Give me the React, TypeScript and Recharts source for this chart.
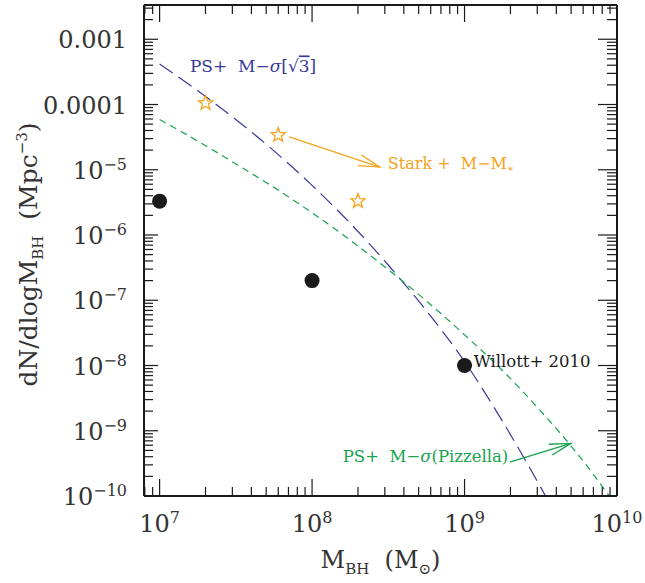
import React from 'react';
import {
  ComposedChart,
  Line,
  Scatter,
  XAxis,
  YAxis,
  ReferenceDot,
  ReferenceLine,
} from 'recharts';

// PS + M-sigma [sqrt 3] model curve (long dashes)
const sqrt3Mass = [1e7, 1.78e7, 3.16e7, 5.62e7, 1e8, 1.78e8, 3.16e8, 5.62e8, 1e9, 1.78e9, 3.4e9];
const sqrt3Density = [4.17e-4, 1.62e-4, 5.89e-5, 1.95e-5, 5.75e-6, 1.51e-6, 3.47e-7, 6.92e-8, 1.15e-8, 1.38e-9, 1.0e-10];

// PS + M-sigma (Pizzella) model curve (short dashes)
const pizzellaMass = [1e7, 1.78e7, 3.16e7, 5.62e7, 1e8, 1.78e8, 3.16e8, 5.62e8, 1e9, 1.78e9, 3.16e9, 5.62e9, 8.9e9];
const pizzellaDensity = [5.89e-5, 2.75e-5, 1.23e-5, 5.37e-6, 2.19e-6, 8.32e-7, 2.95e-7, 9.77e-8, 2.95e-8, 8.32e-9, 2.0e-9, 4.17e-10, 1.0e-10];

// Willott+ 2010 points
const willottMass = [1e7, 1e8, 1e9];
const willottDensity = [3.3e-6, 2.0e-7, 1.0e-8];

// Stark + M-M* points
const starkMass = [2e7, 6e7, 2e8];
const starkDensity = [1.05e-4, 3.4e-5, 3.3e-6];

const xMajor = [1e7, 1e8, 1e9, 1e10];
const yMajor = [1e-10, 1e-9, 1e-8, 1e-7, 1e-6, 1e-5, 1e-4, 1e-3];
const minorSteps = [2, 3, 4, 5, 6, 7, 8, 9];
const xDomain = [7.9e6, 1e10];
const yDomain = [1e-10, 3.35e-3];

const xTicks = [8e6, 9e6, ...xMajor.slice(0, 3).flatMap((d) => minorSteps.map((k) => k * d)), ...xMajor];
const yTicks = [
  ...yMajor.flatMap((d) => minorSteps.map((k) => k * d)).filter((v) => v <= yDomain[1]),
  ...yMajor,
];

const sqrt3Data = sqrt3Mass.map((x, i) => ({ x, y: sqrt3Density[i] }));
const pizzellaData = pizzellaMass.map((x, i) => ({ x, y: pizzellaDensity[i] }));
const willottData = willottMass.map((x, i) => ({ x, y: willottDensity[i] }));
const starkData = starkMass.map((x, i) => ({ x, y: starkDensity[i] }));

const FONT = '"DejaVu Serif", serif';
const BLUE = '#3a3a98';
const GREEN = '#17a34f';
const ORANGE = '#f5a31a';
const INK = '#1a1a1a';
const LABEL = '#333';

const exp10 = (v: number) => Math.round(Math.log10(v));

const XTickBottom = ({ x, y, payload }: any) => {
  const major = xMajor.includes(payload.value);
  return (
    <g>
      <line x1={x} y1={y} x2={x} y2={y - (major ? 17 : 9)} stroke={INK} strokeWidth={1.2} />
      {major && (
        <text x={x} y={y + 36} textAnchor="middle" fontFamily={FONT} fontSize={24} fill={LABEL}>
          10<tspan dy={-9} fontSize={16}>{exp10(payload.value)}</tspan>
        </text>
      )}
    </g>
  );
};

const XTickTop = ({ x, y, payload }: any) => {
  const major = xMajor.includes(payload.value);
  return <line x1={x} y1={y} x2={x} y2={y + (major ? 17 : 9)} stroke={INK} strokeWidth={1.2} />;
};

const YTickLeft = ({ x, y, payload }: any) => {
  const v = payload.value;
  const major = yMajor.includes(v);
  const e = exp10(v);
  return (
    <g>
      <line x1={x} y1={y} x2={x + (major ? 14 : 9)} y2={y} stroke={INK} strokeWidth={1.2} />
      {major && (
        <text x={x - 17} y={y + 9} textAnchor="end" fontFamily={FONT} fontSize={24} fill={LABEL}>
          {e === -3 ? '0.001' : e === -4 ? '0.0001' : (
            <>
              10<tspan dy={-9} fontSize={16}>{'\u2212' + -e}</tspan>
            </>
          )}
        </text>
      )}
    </g>
  );
};

const YTickRight = ({ x, y, payload }: any) => {
  const major = yMajor.includes(payload.value);
  return <line x1={x} y1={y} x2={x - (major ? 19 : 10)} y2={y} stroke={INK} strokeWidth={1.2} />;
};

const BlackDot = ({ cx, cy }: any) => <circle cx={cx} cy={cy} r={7.5} fill={INK} />;

const OpenStar = ({ cx, cy }: any) => {
  const pts: string[] = [];
  for (let i = 0; i < 10; i++) {
    const r = i % 2 === 0 ? 7.5 : 3.2;
    const a = -Math.PI / 2 + (i * Math.PI) / 5;
    pts.push(`${cx + r * Math.cos(a)},${cy + r * Math.sin(a)}`);
  }
  return <polygon points={pts.join(' ')} fill="#fff" stroke={ORANGE} strokeWidth={1.3} />;
};

const arrowShape = (color: string) => (p: any) => {
  const { x1, y1, x2, y2 } = p;
  const ang = Math.atan2(y2 - y1, x2 - x1);
  const L = 22;
  const spread = 0.26;
  const a = { x: x2 - L * Math.cos(ang - spread), y: y2 - L * Math.sin(ang - spread) };
  const b = { x: x2 - L * Math.cos(ang + spread), y: y2 - L * Math.sin(ang + spread) };
  return (
    <g>
      <line x1={x1} y1={y1} x2={x2} y2={y2} stroke={color} strokeWidth={1.3} />
      <polyline
        points={`${a.x},${a.y} ${x2},${y2} ${b.x},${b.y}`}
        fill="none"
        stroke={color}
        strokeWidth={1.3}
      />
    </g>
  );
};

const XTitle = ({ viewBox }: any) => (
  <text
    x={viewBox.x + viewBox.width / 2}
    y={viewBox.y + 72}
    textAnchor="middle"
    fontFamily={FONT}
    fontSize={24}
    fill={LABEL}
  >
    M<tspan dy={6} fontSize={15}>BH</tspan>
    <tspan dy={-6}>{'\u00a0\u00a0(M'}</tspan>
    <tspan dy={6} fontSize={15}>⊙</tspan>
    <tspan dy={-6}>)</tspan>
  </text>
);

const YTitle = ({ viewBox }: any) => {
  const cx = viewBox.x + viewBox.width - 107;
  const cy = viewBox.y + viewBox.height / 2 + 4;
  return (
    <text
      x={cx}
      y={cy}
      transform={`rotate(-90, ${cx}, ${cy})`}
      textAnchor="middle"
      fontFamily={FONT}
      fontSize={25}
      fill={LABEL}
    >
      dN/dlogM<tspan dy={6} fontSize={15}>BH</tspan>
      <tspan dy={-6}>{'\u00a0\u00a0(Mpc'}</tspan>
      <tspan dy={-10} fontSize={15}>{'\u22123'}</tspan>
      <tspan dy={10}>)</tspan>
    </text>
  );
};

export default function App() {
  return (
    <div style={{ position: 'absolute', left: 0, top: 0, background: '#fff' }}>
      <ComposedChart width={645} height={583} margin={{ top: 4, right: 27, bottom: 86, left: 143 }}>
        <XAxis
          xAxisId="bottom"
          dataKey="x"
          type="number"
          scale="log"
          domain={xDomain}
          allowDataOverflow
          ticks={xTicks}
          interval={0}
          tickSize={0}
          tickMargin={0}
          height={1}
          tick={<XTickBottom />}
          axisLine={{ stroke: INK, strokeWidth: 2 }}
          label={{ content: (p: any) => <XTitle viewBox={p.viewBox} /> }}
        />
        <XAxis
          xAxisId="top"
          orientation="top"
          dataKey="x"
          type="number"
          scale="log"
          domain={xDomain}
          allowDataOverflow
          ticks={xTicks}
          interval={0}
          tickSize={0}
          tickMargin={0}
          height={1}
          tick={<XTickTop />}
          axisLine={{ stroke: INK, strokeWidth: 2 }}
        />
        <YAxis
          yAxisId="left"
          dataKey="y"
          type="number"
          scale="log"
          domain={yDomain}
          allowDataOverflow
          ticks={yTicks}
          interval={0}
          tickSize={0}
          tickMargin={0}
          width={1}
          tick={<YTickLeft />}
          axisLine={{ stroke: INK, strokeWidth: 2 }}
          label={{ content: (p: any) => <YTitle viewBox={p.viewBox} /> }}
        />
        <YAxis
          yAxisId="right"
          orientation="right"
          dataKey="y"
          type="number"
          scale="log"
          domain={yDomain}
          allowDataOverflow
          ticks={yTicks}
          interval={0}
          tickSize={0}
          tickMargin={0}
          width={1}
          tick={<YTickRight />}
          axisLine={{ stroke: INK, strokeWidth: 2 }}
        />

        <Line
          xAxisId="bottom"
          yAxisId="left"
          data={sqrt3Data}
          dataKey="y"
          type="monotone"
          stroke={BLUE}
          strokeWidth={1.2}
          strokeDasharray="16 7"
          dot={false}
          activeDot={false}
          isAnimationActive={false}
        />
        <Line
          xAxisId="bottom"
          yAxisId="left"
          data={pizzellaData}
          dataKey="y"
          type="monotone"
          stroke={GREEN}
          strokeWidth={1.2}
          strokeDasharray="7 5"
          dot={false}
          activeDot={false}
          isAnimationActive={false}
        />
        <Scatter
          xAxisId="bottom"
          yAxisId="left"
          data={willottData}
          dataKey="y"
          shape={<BlackDot />}
          isAnimationActive={false}
        />
        <Scatter
          xAxisId="bottom"
          yAxisId="left"
          data={starkData}
          dataKey="y"
          shape={<OpenStar />}
          isAnimationActive={false}
        />

        <ReferenceLine
          xAxisId="bottom"
          yAxisId="left"
          segment={[{ x: 7.1e7, y: 3.2e-5 }, { x: 2.78e8, y: 1.1e-5 }]}
          shape={arrowShape(ORANGE)}
        />
        <ReferenceLine
          xAxisId="bottom"
          yAxisId="left"
          segment={[{ x: 1.98e9, y: 3.3e-10 }, { x: 4.98e9, y: 6.4e-10 }]}
          shape={arrowShape(GREEN)}
        />

        <ReferenceDot
          xAxisId="bottom"
          yAxisId="left"
          x={1.58e7}
          y={3.1e-4}
          shape={(p: any) => (
            <text x={p.cx} y={p.cy} fontFamily={FONT} fontSize={17} fill={BLUE}>
              {'PS+\u00a0\u00a0M\u2212'}
              <tspan fontStyle="italic">σ</tspan>[√<tspan style={{ textDecoration: 'overline' }}>3</tspan>]
            </text>
          )}
        />
        <ReferenceDot
          xAxisId="bottom"
          yAxisId="left"
          x={3.14e8}
          y={1.02e-5}
          shape={(p: any) => (
            <text x={p.cx} y={p.cy} fontFamily={FONT} fontSize={16} fill={ORANGE}>
              {'Stark\u00a0+\u00a0\u00a0M\u2212M'}
              <tspan dy={3} fontSize={10}>∗</tspan>
            </text>
          )}
        />
        <ReferenceDot
          xAxisId="bottom"
          yAxisId="left"
          x={1.15e9}
          y={1e-8}
          shape={(p: any) => (
            <text x={p.cx} y={p.cy} dy={1} fontFamily={FONT} fontSize={16.5} fill={INK}>
              {'Willott+\u00a02010'}
            </text>
          )}
        />
        <ReferenceDot
          xAxisId="bottom"
          yAxisId="left"
          x={1.59e8}
          y={3.3e-10}
          shape={(p: any) => (
            <text x={p.cx} y={p.cy} fontFamily={FONT} fontSize={16.5} fill={GREEN}>
              {'PS+\u00a0\u00a0M\u2212'}
              <tspan fontStyle="italic">σ</tspan>(Pizzella)
            </text>
          )}
        />
      </ComposedChart>
    </div>
  );
}
